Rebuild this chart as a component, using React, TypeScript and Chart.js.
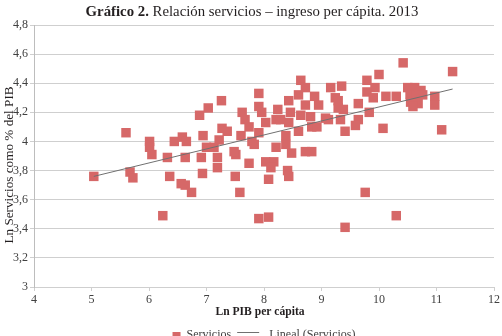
import { useEffect, useRef } from "react";
import { Chart, registerables } from "chart.js";

Chart.register(...registerables);

// Ln of GDP per capita (x) for each country
const lnPib = [
  5.04, 5.6, 5.67, 5.72, 6.01, 6.01, 6.05, 6.24, 6.32, 6.36,
  6.44, 6.58, 6.65, 6.56, 6.63, 6.74, 6.63, 6.88, 7.03, 6.94,
  7.0, 7.13, 6.91, 6.93, 7.19, 7.19, 7.26, 7.27, 7.36, 7.22,
  7.5, 7.58, 7.51, 7.74, 7.62, 7.67, 7.74, 7.6, 7.79, 7.91,
  7.91, 7.96, 8.03, 7.91, 7.83, 7.91, 8.08, 8.03, 8.17, 8.12,
  8.08, 8.21, 8.29, 8.24, 8.21, 8.38, 8.38, 8.43, 8.43, 8.46,
  8.48, 8.41, 8.43, 8.6, 8.64, 8.72, 8.64, 8.72, 8.6, 8.72,
  8.83, 8.83, 8.88, 8.95, 9.07, 9.16, 9.35, 9.24, 9.29, 9.33,
  9.41, 9.38, 9.64, 9.83, 9.64, 9.59, 9.79, 10.0, 9.93, 9.79,
  9.9, 10.12, 10.3, 10.42, 10.5, 10.62, 10.73, 10.54, 10.64, 10.76,
  10.55, 10.68, 10.59, 10.97, 10.97, 11.28, 10.07, 11.09, 9.76, 10.3,
  9.41, 7.48, 9.29, 8.92, 9.12, 8.81,
];

// Ln of services as % of GDP (y) for the same countries
const lnServicios = [
  3.76, 4.06, 3.79, 3.75, 4.0, 3.96, 3.91, 3.49, 3.89, 3.76,
  4.0, 4.03, 4.0, 3.71, 3.7, 3.65, 3.89, 4.18, 4.23, 4.04,
  3.96, 3.96, 3.89, 3.78, 3.89, 3.82, 4.28, 4.09, 4.07, 4.01,
  3.76, 3.65, 3.91, 3.85, 4.2, 4.15, 4.1, 4.04, 4.0, 4.33,
  4.24, 4.2, 4.13, 4.06, 3.98, 3.47, 3.48, 3.86, 3.86, 3.82,
  3.74, 4.15, 4.15, 4.22, 3.96, 3.98, 4.04, 4.13, 4.28, 4.2,
  3.92, 3.8, 3.76, 4.32, 4.42, 4.37, 4.18, 4.25, 4.07, 3.93,
  3.93, 4.1, 4.31, 4.25, 4.16, 4.37, 4.38, 4.3, 4.23, 4.15,
  4.07, 4.22, 4.26, 4.2, 4.15, 4.11, 4.42, 4.46, 4.37, 4.34,
  4.3, 4.31, 4.31, 4.54, 4.37, 4.37, 4.35, 4.32, 4.31, 4.32,
  4.27, 4.26, 4.24, 4.31, 4.25, 4.48, 4.09, 4.08, 3.65, 3.49,
  3.41, 3.93, 4.28, 4.1, 4.15, 4.17,
];

// Linear trend endpoints
const trendX = [5.04, 11.28];
const trendY = [3.76, 4.36];

const titleBold = "Gráfico 2.";
const titleRest = " Relación servicios – ingreso per cápita. 2013";
const xTitle = "Ln PIB per cápita";
const yTitle = "Ln Servicios como % del PIB";
const seriesLabel = "Servicios";
const trendLabel = "Lineal (Servicios)";

const SERIF = "'Liberation Serif', 'DejaVu Serif', serif";
const RED = "rgb(214,104,104)";
const TREND = "#707070";
const GRID = "#cfcfcf";
const DARK = "#231f20";

// Chart heading with a bold lead-in, plus the axis titles
const textPlugin = {
  id: "chartTexts",
  afterDraw(chart: any) {
    const ctx = chart.ctx as CanvasRenderingContext2D;
    const area = chart.chartArea;
    ctx.save();
    const bold = `bold 14.8px ${SERIF}`;
    const reg = `14.8px ${SERIF}`;
    ctx.font = bold;
    const w1 = ctx.measureText(titleBold).width;
    ctx.font = reg;
    const w2 = ctx.measureText(titleRest).width;
    let x = 252 - (w1 + w2) / 2;
    ctx.textBaseline = "middle";
    ctx.textAlign = "left";
    ctx.fillStyle = DARK;
    ctx.font = bold;
    ctx.fillText(titleBold, x, 12);
    x += w1;
    ctx.font = reg;
    ctx.fillText(titleRest, x, 12);

    // x-axis title
    ctx.textAlign = "center";
    ctx.font = `bold 11.6px ${SERIF}`;
    ctx.fillText(xTitle, (area.left + area.right) / 2 - 4, 312);

    // y-axis title
    ctx.font = `13.2px ${SERIF}`;
    ctx.translate(10, (area.top + area.bottom) / 2 + 9);
    ctx.rotate(-Math.PI / 2);
    ctx.fillText(yTitle, 0, 0);
    ctx.restore();
  },
};

const legendPlugin = {
  id: "bottomLegend",
  afterDraw(chart: any) {
    const ctx = chart.ctx as CanvasRenderingContext2D;
    const area = chart.chartArea;
    ctx.save();
    ctx.font = `12px ${SERIF}`;
    const box = 8;
    const lineLen = 22;
    const wS = ctx.measureText(seriesLabel).width;
    const wT = ctx.measureText(trendLabel).width;
    const total = box + 6 + wS + 6 + lineLen + 10 + wT;
    let x = (area.left + area.right) / 2 - total / 2;
    const y = 335;
    ctx.fillStyle = RED;
    ctx.fillRect(x, y - box / 2 + 1, box, box);
    x += box + 6;
    ctx.fillStyle = "#404040";
    ctx.textBaseline = "middle";
    ctx.fillText(seriesLabel, x, y);
    x += wS + 6;
    ctx.strokeStyle = TREND;
    ctx.lineWidth = 1;
    ctx.beginPath();
    ctx.moveTo(x, y - 2.5);
    ctx.lineTo(x + lineLen, y - 2.5);
    ctx.stroke();
    x += lineLen + 10;
    ctx.fillText(trendLabel, x, y);
    ctx.restore();
  },
};

function formatTick(v: number) {
  return String(Number(v.toFixed(1))).replace(".", ",");
}

export default function App() {
  const ref = useRef<HTMLCanvasElement>(null);

  useEffect(() => {
    if (!ref.current) return;
    const points = lnPib.map((x, i) => ({ x, y: lnServicios[i] }));
    const trend = trendX.map((x, i) => ({ x, y: trendY[i] }));
    const chart = new Chart(ref.current, {
      type: "scatter",
      data: {
        datasets: [
          {
            label: trendLabel,
            data: trend,
            showLine: true,
            borderColor: TREND,
            borderWidth: 1,
            pointRadius: 0,
            order: 0,
          },
          {
            label: seriesLabel,
            data: points,
            pointStyle: "rect",
            pointRadius: 6.7,
            backgroundColor: RED,
            borderWidth: 0,
            order: 1,
          },
        ],
      },
      options: {
        responsive: false,
        animation: false,
        devicePixelRatio: 1,
        layout: { padding: { top: 25, left: 0, right: 6, bottom: 0 } },
        plugins: {
          legend: { display: false },
          title: { display: false },
          tooltip: { enabled: false },
        },
        scales: {
          x: {
            type: "linear",
            min: 4,
            max: 12,
            afterFit: (s: any) => {
              s.height = 49;
            },
            ticks: {
              stepSize: 1,
              padding: 2,
              color: "#404040",
              font: { family: SERIF, size: 12 },
            },
            grid: {
              drawOnChartArea: false,
              drawTicks: true,
              tickLength: 4,
              color: GRID,
            },
            border: { display: false },
          },
          y: {
            type: "linear",
            min: 3,
            max: 4.8,
            afterFit: (s: any) => {
              s.width = 34;
            },
            ticks: {
              stepSize: 0.2,
              padding: 2,
              color: "#404040",
              font: { family: SERIF, size: 12 },
              callback: (v: any) => formatTick(Number(v)),
            },
            grid: {
              color: GRID,
              tickLength: 4,
            },
            border: { display: true, color: "#bdbdbd" },
          },
        },
      },
      plugins: [textPlugin, legendPlugin],
    });
    return () => chart.destroy();
  }, []);

  return (
    <div style={{ position: "absolute", left: 0, top: 0, width: 502, height: 336, background: "#fff" }}>
      <canvas ref={ref} width={502} height={336} style={{ display: "block" }} />
    </div>
  );
}
